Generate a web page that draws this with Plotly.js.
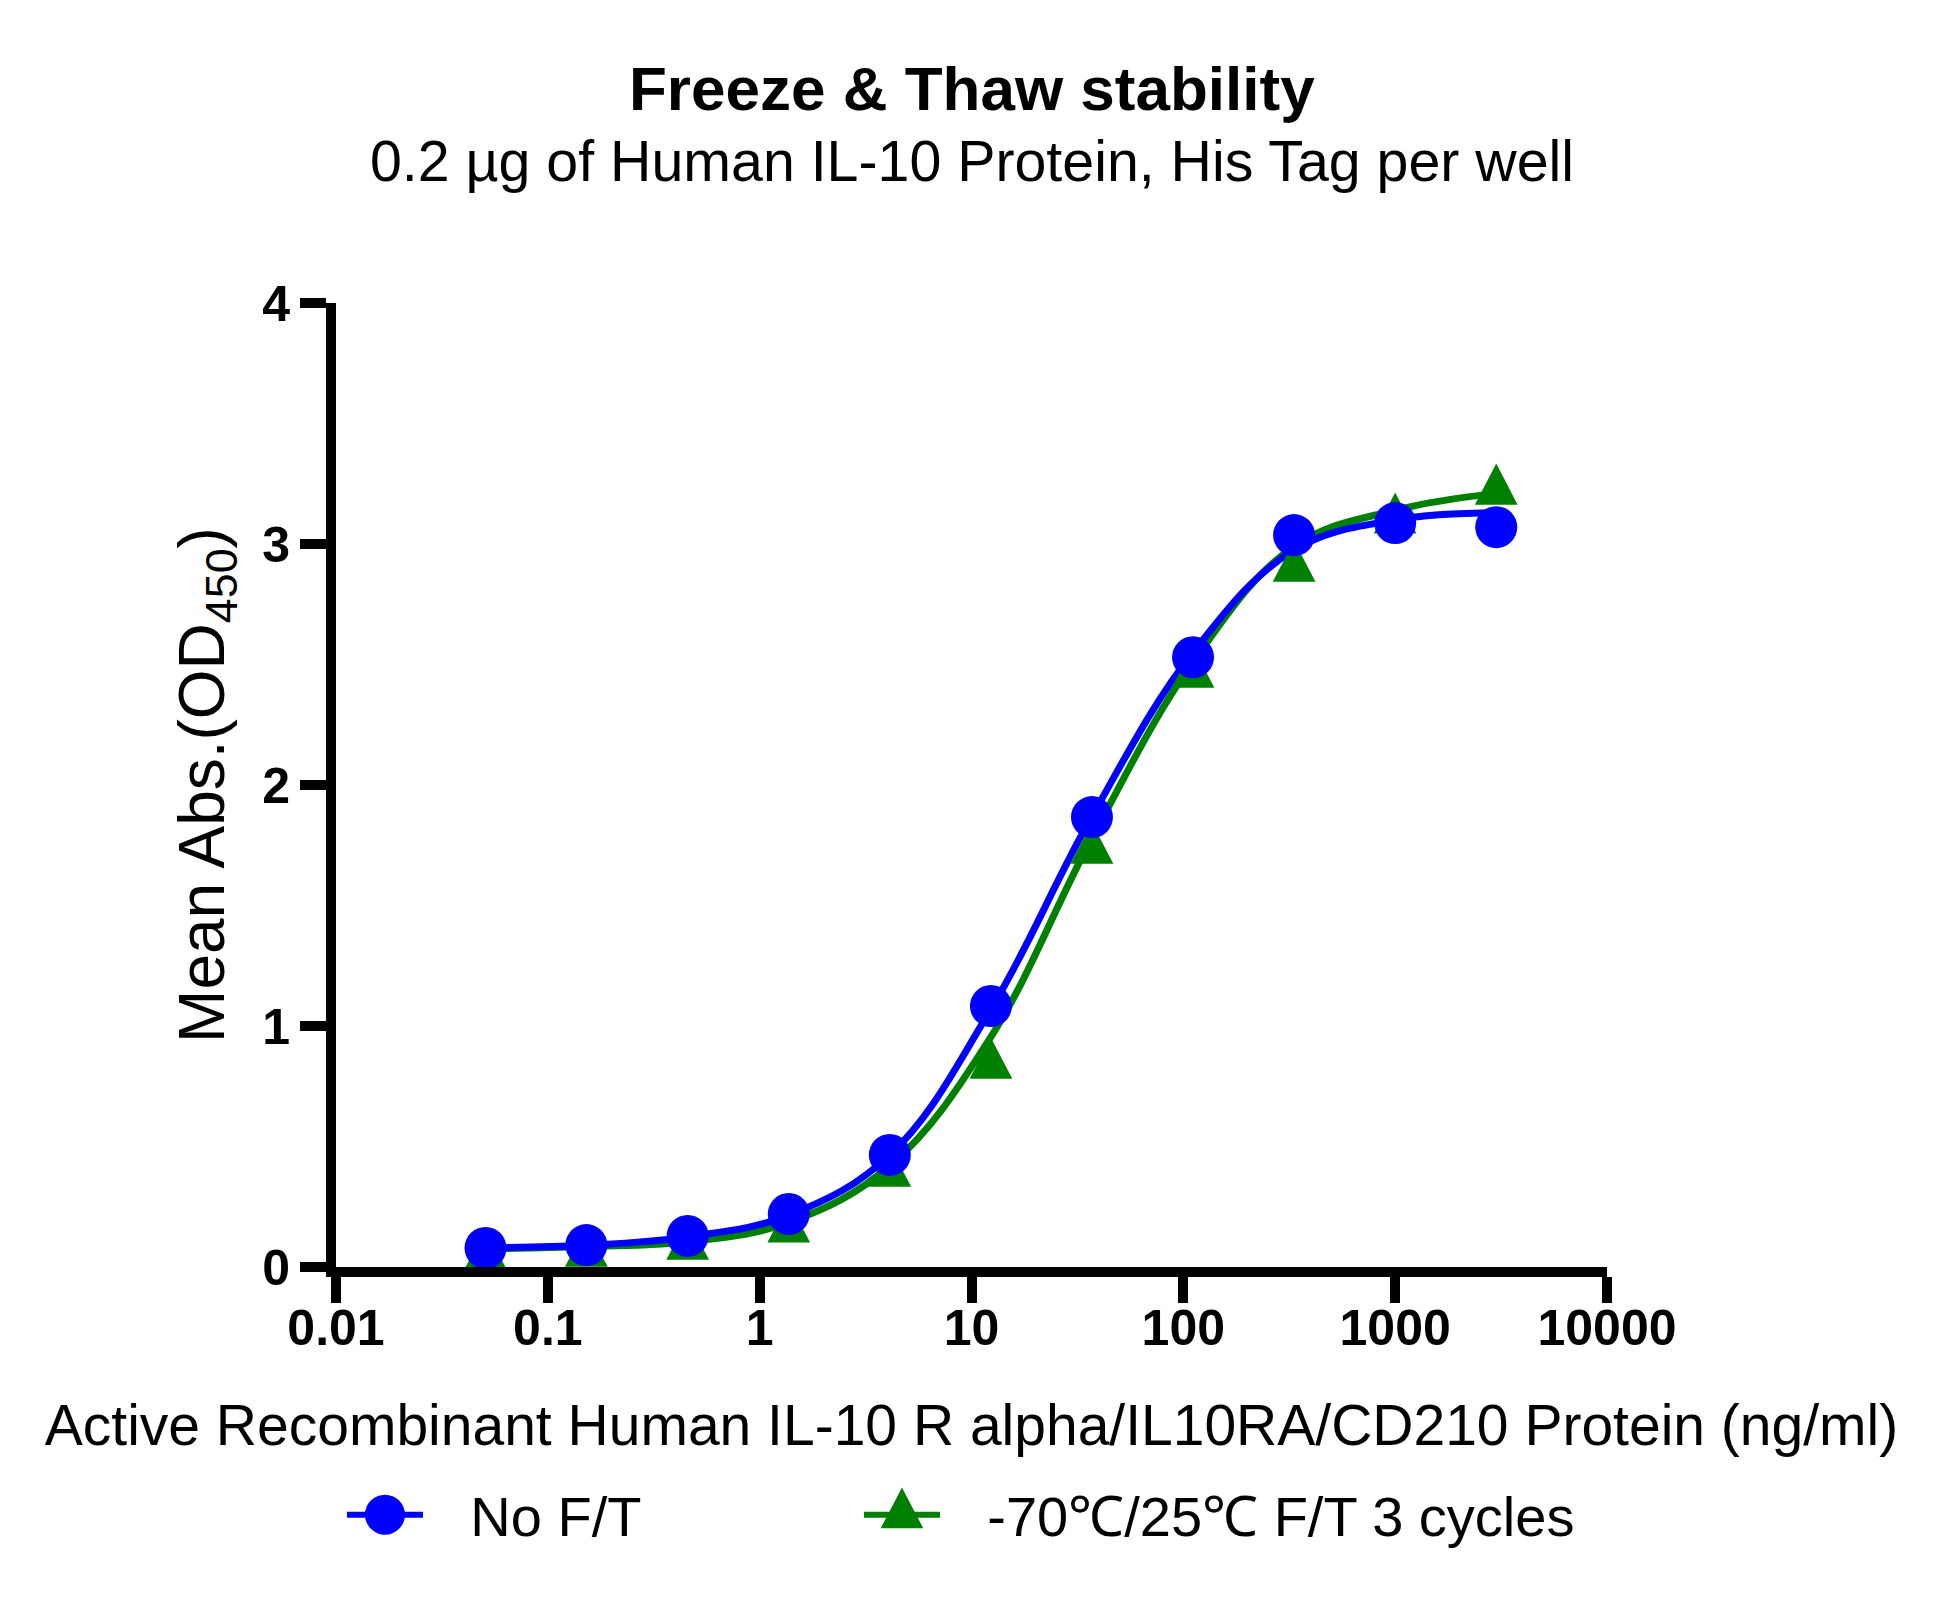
<!DOCTYPE html>
<html>
<head>
<meta charset="utf-8">
<script src="https://cdn.plot.ly/plotly-3.0.1.min.js"></script>
<style>
  html, body { margin: 0; padding: 0; background: #fff; }
  #chart { width: 1946px; height: 1597px; }
</style>
</head>
<body>
<div id="chart"></div>
<script>
// 3-fold dilution series, ng/ml
const conc = [0.0508, 0.152, 0.457, 1.372, 4.115, 12.35, 37.04, 111.1, 333.3, 1000, 3000];

// measured OD450
const noFT = [0.079, 0.091, 0.129, 0.22, 0.465, 1.083, 1.867, 2.53, 3.037, 3.087, 3.07];
const ft3 = [0.045, 0.058, 0.087, 0.158, 0.39, 0.838, 1.73, 2.46, 2.90, 3.10, 3.22];

// fitted curves at the same concentrations
const noFTFit = [0.08, 0.09, 0.125, 0.215, 0.465, 1.07, 1.87, 2.55, 2.975, 3.10, 3.13];
const ft3Fit = [0.075, 0.085, 0.105, 0.185, 0.42, 0.955, 1.78, 2.51, 2.99, 3.14, 3.21];

const seriesNames = ['No F/T', '-70℃/25℃ F/T 3 cycles'];
const xTicks = [0.01, 0.1, 1, 10, 100, 1000, 10000];
const xTickText = ['0.01', '0.1', '1', '10', '100', '1000', '10000'];
const yTicks = [0, 1, 2, 3, 4];

const BLUE = '#0000ff';
const GREEN = '#008000';
const FONT = 'Liberation Sans, Arial, sans-serif';

// points get a null after each one so the legend shows line + marker
// but no segments are drawn between the measured points
const gapped = arr => arr.flatMap(v => [v, null]);
const pad = '\u00a0\u00a0\u2009';

var traces = [
  {
    x: conc, y: ft3Fit, mode: 'lines', type: 'scatter',
    line: {color: GREEN, width: 7, shape: 'spline', smoothing: 1.1},
    showlegend: false, hoverinfo: 'skip'
  },
  {
    x: conc, y: noFTFit, mode: 'lines', type: 'scatter',
    line: {color: BLUE, width: 7, shape: 'spline', smoothing: 1.1},
    showlegend: false, hoverinfo: 'skip'
  },
  {
    x: gapped(conc), y: gapped(ft3), mode: 'lines+markers', type: 'scatter',
    name: pad + seriesNames[1], legendrank: 2, legendwidth: 640, connectgaps: false,
    line: {color: GREEN, width: 6},
    marker: {symbol: 'triangle-up', size: 37, color: GREEN}
  },
  {
    x: gapped(conc), y: gapped(noFT), mode: 'lines+markers', type: 'scatter',
    name: pad + seriesNames[0], legendrank: 1, legendwidth: 426, connectgaps: false,
    line: {color: BLUE, width: 6},
    marker: {symbol: 'circle', size: 42, color: BLUE}
  }
];

var layout = {
  width: 1946,
  height: 1597,
  margin: {l: 336, r: 339, t: 303, b: 330},
  paper_bgcolor: '#fff',
  plot_bgcolor: '#fff',
  font: {family: FONT, color: '#000'},
  showlegend: true,
  legend: {
    orientation: 'h',
    x: 0.0047, xanchor: 'left',
    y: -0.257, yanchor: 'middle',
    itemwidth: 76,
    entrywidthmode: 'pixels',
    font: {family: FONT, size: 56, color: '#000'},
    bgcolor: 'rgba(0,0,0,0)'
  },
  xaxis: {
    type: 'log',
    range: [-2, 4],
    tickvals: xTicks,
    ticktext: xTickText,
    showline: true, linewidth: 10, linecolor: '#000',
    ticks: 'outside', ticklen: 26, tickwidth: 10, tickcolor: '#000',
    ticklabelstandoff: -18,
    showgrid: false, zeroline: false, automargin: false,
    tickfont: {family: FONT, size: 50, weight: 'bold', color: '#000'},
    title: {
      text: 'Active Recombinant Human IL-10 R alpha/IL10RA/CD210 Protein (ng/ml)',
      font: {family: FONT, size: 57, color: '#000'},
      standoff: 54
    }
  },
  yaxis: {
    range: [0, 4],
    tickvals: yTicks,
    showline: true, linewidth: 10, linecolor: '#000',
    ticks: 'outside', ticklen: 26, tickwidth: 10, tickcolor: '#000',
    showgrid: false, zeroline: false, automargin: false,
    tickfont: {family: FONT, size: 50, weight: 'bold', color: '#000'},
    title: {
      text: 'Mean Abs.(OD<sub>450</sub>)',
      font: {family: FONT, size: 64, color: '#000'},
      standoff: 21
    }
  },
  annotations: [
    {
      text: 'Freeze & Thaw stability',
      xref: 'paper', yref: 'paper', x: 0.5, y: 1.222,
      xanchor: 'center', yanchor: 'middle', showarrow: false,
      font: {family: FONT, size: 62, weight: 'bold', color: '#000'}
    },
    {
      text: '0.2 µg of Human IL-10 Protein, His Tag per well',
      xref: 'paper', yref: 'paper', x: 0.5, y: 1.1473,
      xanchor: 'center', yanchor: 'middle', showarrow: false,
      font: {family: FONT, size: 57.3, color: '#000'}
    }
  ]
};

function addTransform(el, extra) {
  el.setAttribute('transform', (el.getAttribute('transform') || '') + ' ' + extra);
}

Plotly.newPlot('chart', traces, layout, {staticPlot: true}).then(function (gd) {
  // the reference triangles are taller than plotly's equilateral ones
  var plotTraces = gd.querySelectorAll('.scatterlayer .trace');
  plotTraces[2].querySelectorAll('path.point').forEach(function (p) {
    addTransform(p, 'scale(1,1.48)');
  });
  // legend symbols are capped at 16px by plotly; blow them up to match the plot markers
  var items = gd.querySelectorAll('.legend .traces');
  items.forEach(function (item, i) {
    item.querySelectorAll('.legendpoints path.scatterpts').forEach(function (p) {
      addTransform(p, i === 0 ? 'scale(2.5)' : 'scale(2.3,3.4)');
    });
  });
});
</script>
</body>
</html>
